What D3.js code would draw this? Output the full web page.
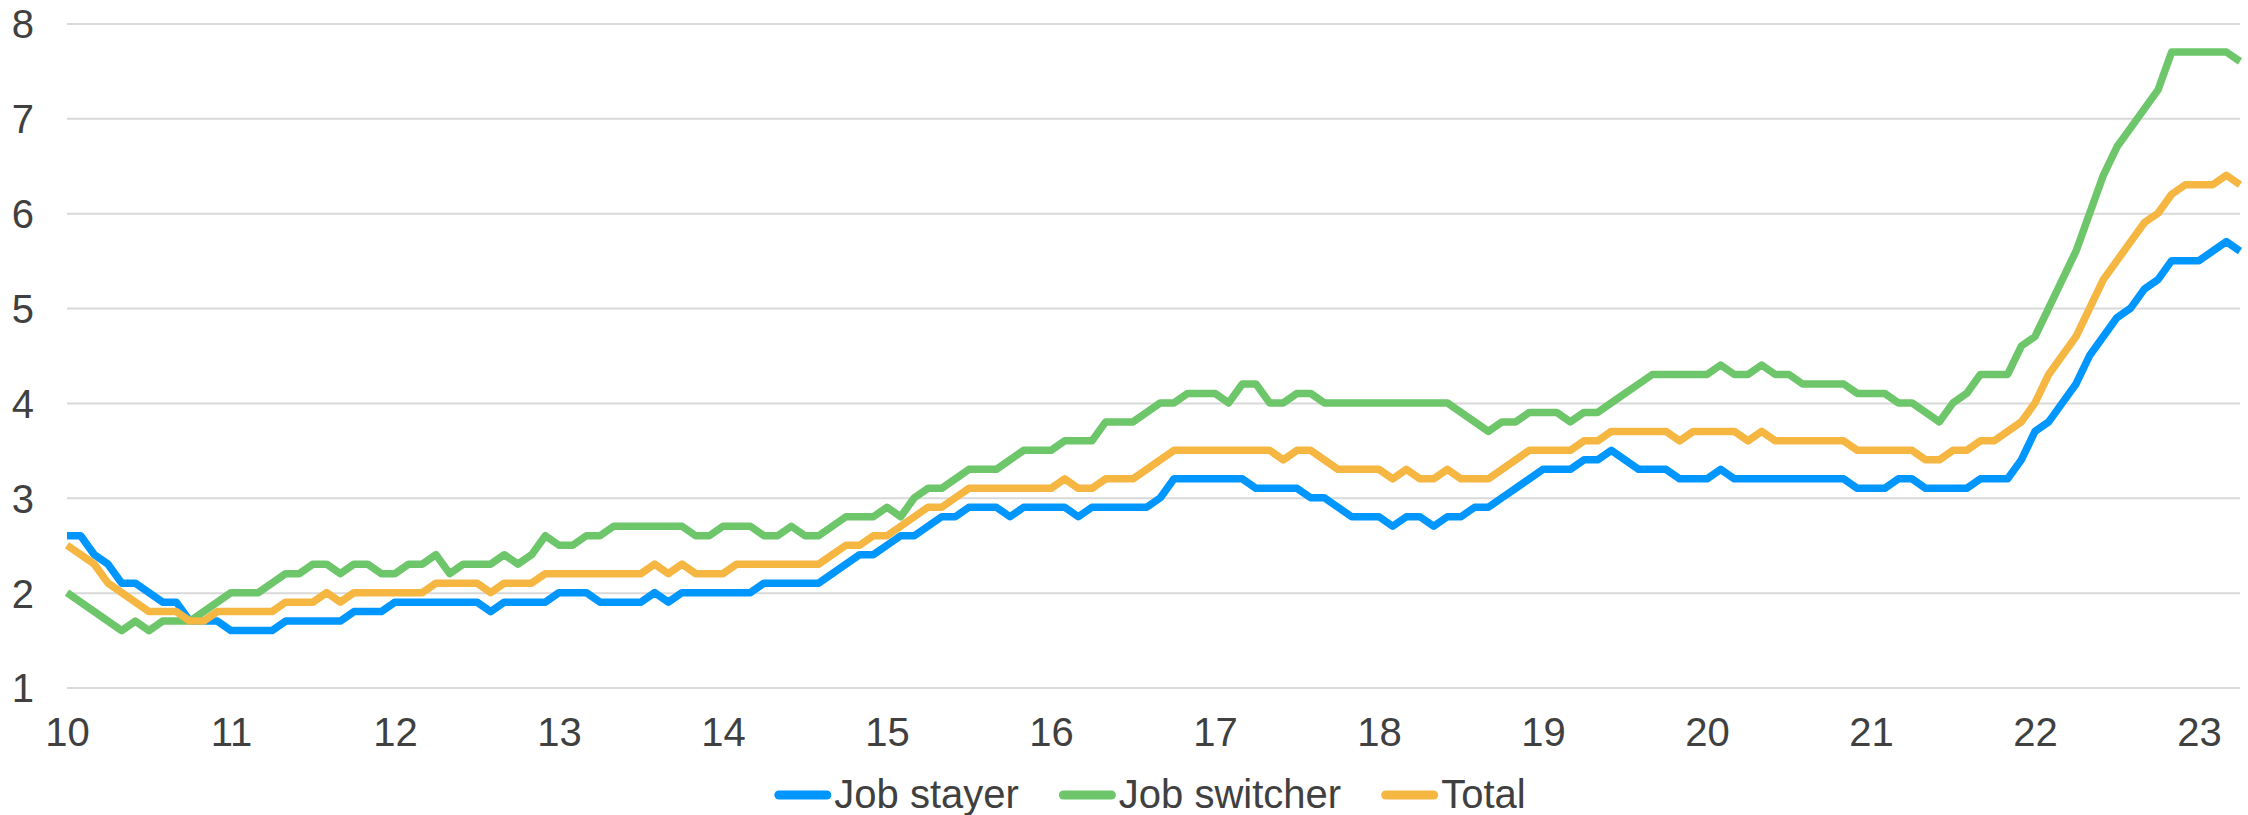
<!DOCTYPE html>
<html><head><meta charset="utf-8">
<script src="https://cdn.jsdelivr.net/npm/d3@7/dist/d3.min.js"></script>
<style>html,body{margin:0;padding:0;background:#fff;} svg{display:block;}</style>
</head><body>
<svg id="chart" width="2248" height="815"></svg>
<script>
// Monthly data, Jan 2010 - Apr 2023
const yearLabels = ["10","11","12","13","14","15","16","17","18","19","20","21","22","23"];
const yTicks = [1,2,3,4,5,6,7,8];
const seriesNames = ["Job stayer","Job switcher","Total"];
const seriesColors = ["#0096FF","#6DC66A","#F5B642"];

const jobStayer = [
2.6,2.6,2.4,2.3,2.1,2.1,2.0,1.9,1.9,1.7,1.7,1.7,
1.6,1.6,1.6,1.6,1.7,1.7,1.7,1.7,1.7,1.8,1.8,1.8,
1.9,1.9,1.9,1.9,1.9,1.9,1.9,1.8,1.9,1.9,1.9,1.9,
2.0,2.0,2.0,1.9,1.9,1.9,1.9,2.0,1.9,2.0,2.0,2.0,
2.0,2.0,2.0,2.1,2.1,2.1,2.1,2.1,2.2,2.3,2.4,2.4,
2.5,2.6,2.6,2.7,2.8,2.8,2.9,2.9,2.9,2.8,2.9,2.9,
2.9,2.9,2.8,2.9,2.9,2.9,2.9,2.9,3.0,3.2,3.2,3.2,
3.2,3.2,3.2,3.1,3.1,3.1,3.1,3.0,3.0,2.9,2.8,2.8,
2.8,2.7,2.8,2.8,2.7,2.8,2.8,2.9,2.9,3.0,3.1,3.2,
3.3,3.3,3.3,3.4,3.4,3.5,3.4,3.3,3.3,3.3,3.2,3.2,
3.2,3.3,3.2,3.2,3.2,3.2,3.2,3.2,3.2,3.2,3.2,3.1,
3.1,3.1,3.2,3.2,3.1,3.1,3.1,3.1,3.2,3.2,3.2,3.4,
3.7,3.8,4.0,4.2,4.5,4.7,4.9,5.0,5.2,5.3,5.5,5.5,
5.5,5.6,5.7,5.6
];
const jobSwitcher = [
2.0,1.9,1.8,1.7,1.6,1.7,1.6,1.7,1.7,1.7,1.8,1.9,
2.0,2.0,2.0,2.1,2.2,2.2,2.3,2.3,2.2,2.3,2.3,2.2,
2.2,2.3,2.3,2.4,2.2,2.3,2.3,2.3,2.4,2.3,2.4,2.6,
2.5,2.5,2.6,2.6,2.7,2.7,2.7,2.7,2.7,2.7,2.6,2.6,
2.7,2.7,2.7,2.6,2.6,2.7,2.6,2.6,2.7,2.8,2.8,2.8,
2.9,2.8,3.0,3.1,3.1,3.2,3.3,3.3,3.3,3.4,3.5,3.5,
3.5,3.6,3.6,3.6,3.8,3.8,3.8,3.9,4.0,4.0,4.1,4.1,
4.1,4.0,4.2,4.2,4.0,4.0,4.1,4.1,4.0,4.0,4.0,4.0,
4.0,4.0,4.0,4.0,4.0,4.0,3.9,3.8,3.7,3.8,3.8,3.9,
3.9,3.9,3.8,3.9,3.9,4.0,4.1,4.2,4.3,4.3,4.3,4.3,
4.3,4.4,4.3,4.3,4.4,4.3,4.3,4.2,4.2,4.2,4.2,4.1,
4.1,4.1,4.0,4.0,3.9,3.8,4.0,4.1,4.3,4.3,4.3,4.6,
4.7,5.0,5.3,5.6,6.0,6.4,6.7,6.9,7.1,7.3,7.7,7.7,
7.7,7.7,7.7,7.6
];
const total = [
2.5,2.4,2.3,2.1,2.0,1.9,1.8,1.8,1.8,1.7,1.7,1.8,
1.8,1.8,1.8,1.8,1.9,1.9,1.9,2.0,1.9,2.0,2.0,2.0,
2.0,2.0,2.0,2.1,2.1,2.1,2.1,2.0,2.1,2.1,2.1,2.2,
2.2,2.2,2.2,2.2,2.2,2.2,2.2,2.3,2.2,2.3,2.2,2.2,
2.2,2.3,2.3,2.3,2.3,2.3,2.3,2.3,2.4,2.5,2.5,2.6,
2.6,2.7,2.8,2.9,2.9,3.0,3.1,3.1,3.1,3.1,3.1,3.1,
3.1,3.2,3.1,3.1,3.2,3.2,3.2,3.3,3.4,3.5,3.5,3.5,
3.5,3.5,3.5,3.5,3.5,3.4,3.5,3.5,3.4,3.3,3.3,3.3,
3.3,3.2,3.3,3.2,3.2,3.3,3.2,3.2,3.2,3.3,3.4,3.5,
3.5,3.5,3.5,3.6,3.6,3.7,3.7,3.7,3.7,3.7,3.6,3.7,
3.7,3.7,3.7,3.6,3.7,3.6,3.6,3.6,3.6,3.6,3.6,3.5,
3.5,3.5,3.5,3.5,3.4,3.4,3.5,3.5,3.6,3.6,3.7,3.8,
4.0,4.3,4.5,4.7,5.0,5.3,5.5,5.7,5.9,6.0,6.2,6.3,
6.3,6.3,6.4,6.3
];

const series = [jobStayer, jobSwitcher, total];

const svg = d3.select("#chart");
const font = "'Liberation Sans', Arial, Helvetica, sans-serif";
const plotLeft = 67, plotRight = 2240, plotTop = 23.5, plotBottom = 687.5;

const x = d3.scaleLinear().domain([0, jobStayer.length - 1]).range([plotLeft, plotRight]);
const y = d3.scaleLinear().domain([1, 8]).range([plotBottom, plotTop]);

// Y axis with gridlines
const yAxis = d3.axisLeft(y).tickValues(yTicks).tickFormat(d3.format("d"))
  .tickSize(-(plotRight - plotLeft)).tickPadding(33);
const gy = svg.append("g").attr("transform", `translate(${plotLeft},0)`).call(yAxis);
gy.select(".domain").remove();
gy.selectAll(".tick line").attr("stroke", "#D9D9D9").attr("stroke-width", 2);
gy.selectAll(".tick text").attr("font-family", font).attr("font-size", 40)
  .attr("fill", "#404040").attr("dy", "0.36em");

// X axis
const xAxis = d3.axisBottom(x).tickValues(d3.range(0, yearLabels.length * 12, 12))
  .tickFormat((d, i) => yearLabels[i]).tickSize(0).tickPadding(30);
const gx = svg.append("g").attr("transform", `translate(0,${plotBottom})`).call(xAxis);
gx.select(".domain").remove();
gx.selectAll(".tick text").attr("font-family", font).attr("font-size", 40)
  .attr("fill", "#404040");

// Lines
const line = d3.line().x((d, i) => x(i)).y(d => y(d));
series.forEach((s, k) => {
  svg.append("path").datum(s).attr("d", line)
    .attr("fill", "none").attr("stroke", seriesColors[k])
    .attr("stroke-width", 7.5).attr("stroke-linejoin", "round").attr("stroke-linecap", "butt");
});

// Legend
const legend = svg.append("g");
const swatchW = 57, gapT = 3, gapItem = 40;
let cx = 0;
seriesNames.forEach((name, k) => {
  const g = legend.append("g");
  g.append("line").attr("x1", cx + 4.5).attr("x2", cx + swatchW - 4.5)
    .attr("y1", 795).attr("y2", 795).attr("stroke", seriesColors[k])
    .attr("stroke-width", 9).attr("stroke-linecap", "round");
  const t = g.append("text").attr("x", cx + swatchW + gapT).attr("y", 807.5)
    .attr("font-family", font).attr("font-size", 40).attr("fill", "#404040").text(name);
  const w = t.node().getComputedTextLength();
  cx += swatchW + gapT + w + gapItem;
});
const totalW = cx - gapItem;
legend.attr("transform", `translate(${1150 - totalW / 2},0)`);
</script>
</body></html>
